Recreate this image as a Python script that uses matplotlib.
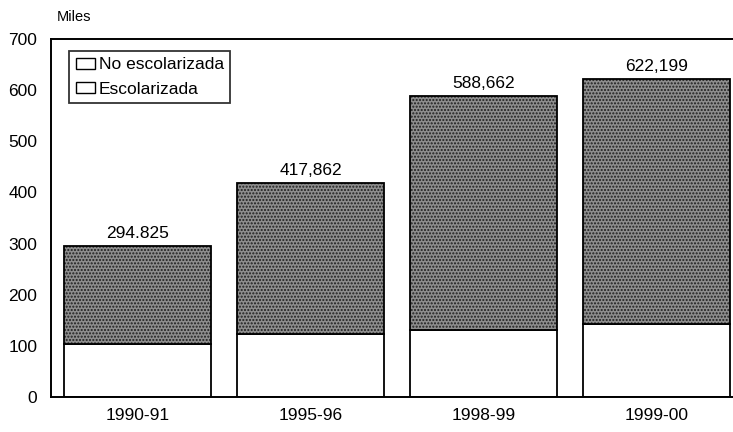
import matplotlib
matplotlib.use("Agg")
import matplotlib.pyplot as plt
import numpy as np
from matplotlib.patches import Patch

plt.rcParams['font.family'] = ['Liberation Sans', 'DejaVu Sans']

# data (miles)
periods = ['1990-91', '1995-96', '1998-99', '1999-00']
escolarizada = [103, 123, 130, 143]
totales = [294.825, 417.862, 588.662, 622.199]
etiquetas = ['294.825', '417,862', '588,662', '622,199']
no_escolarizada = [t - e for t, e in zip(totales, escolarizada)]

fig = plt.figure(figsize=(7.33, 4.32), dpi=100)
ax = fig.add_axes([0.0696, 0.081, 0.9304, 0.829])

x = np.arange(len(periods))
w = 0.845

ax.bar(x, escolarizada, w, color='white', edgecolor='black', linewidth=1.3,
       label='Escolarizada')
ax.bar(x, no_escolarizada, w, bottom=escolarizada, color='#8e8e8e',
       edgecolor='#1e1e1e', hatch='.....', linewidth=0)
ax.bar(x, no_escolarizada, w, bottom=escolarizada, fill=False,
       edgecolor='black', linewidth=1.3)

for xi, t, lab in zip(x, totales, etiquetas):
    ax.text(xi, t + 10, lab, ha='center', va='bottom', fontsize=12.5)

# legend: both keys drawn as empty boxes
handles = [Patch(facecolor='white', edgecolor='black', label='No escolarizada'),
           Patch(facecolor='white', edgecolor='black', label='Escolarizada')]
leg = ax.legend(handles=handles, loc='upper left', bbox_to_anchor=(0.027, 0.965),
                fontsize=12.5, frameon=True, fancybox=False, edgecolor='black',
                borderpad=0.35, labelspacing=0.55, handlelength=1.1,
                handleheight=0.6, handletextpad=0.25, borderaxespad=0)
leg.get_frame().set_linewidth(1.3)

ax.set_xlim(-0.5, 3.442)
ax.set_ylim(0, 700)
ax.set_yticks(range(0, 701, 100))
ax.set_xticks(x)
ax.set_xticklabels(periods)
ax.tick_params(axis='both', length=0, labelsize=12.5)
ax.tick_params(axis='x', pad=8)
ax.tick_params(axis='y', pad=10)
for s in ['left', 'bottom', 'top']:
    ax.spines[s].set_linewidth(1.4)
ax.spines['right'].set_visible(False)

fig.text(0.078, 0.945, 'Miles', fontsize=10.5, ha='left', va='bottom')

fig.savefig('out.png', dpi=100)
